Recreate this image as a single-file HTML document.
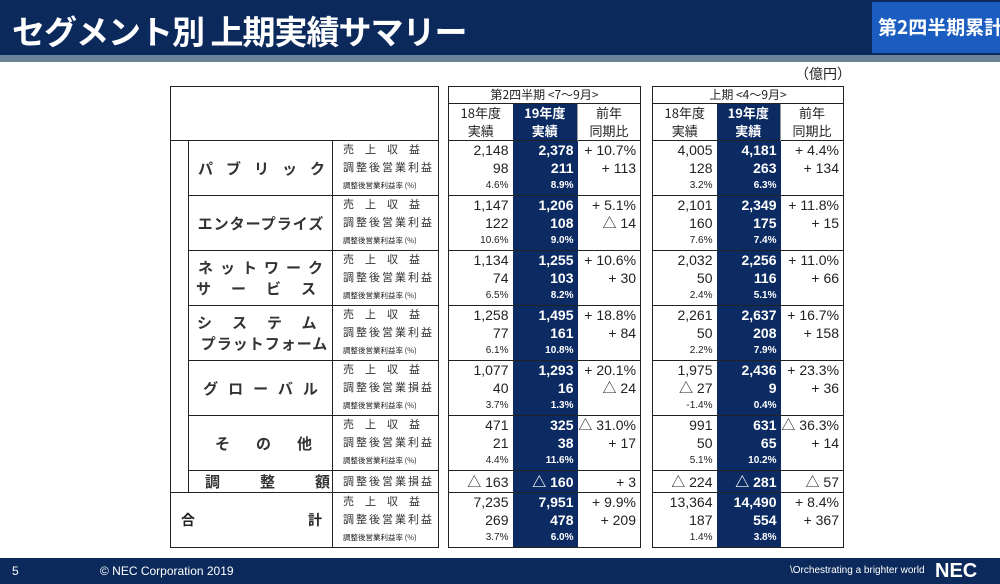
<!DOCTYPE html>
<html><head><meta charset="utf-8"><style>
*{margin:0;padding:0;box-sizing:border-box}
body{width:1000px;height:584px;position:relative;background:#fff;font-family:"Liberation Sans","Noto Sans CJK JP",sans-serif;overflow:hidden;color:#222}
.hd{position:absolute;left:0;top:0;width:1000px;height:55px;background:#0b2a5b}
.st{position:absolute;left:0;top:55px;width:1000px;height:7px;background:#6a8399}
.ttl{position:absolute;left:12px;top:6px;color:#fff;font-size:33px;font-weight:bold;letter-spacing:-1px;font-family:"Noto Sans CJK JP",sans-serif}
.tag{position:absolute;left:872px;top:2px;width:128px;height:51px;background:#1a5cc0;color:#fff;font-size:19px;font-weight:bold;padding:11px 0 0 6px;white-space:nowrap;font-family:"Noto Sans CJK JP",sans-serif}
.unit{position:absolute;left:795px;top:64px;font-size:14px;font-family:"Noto Sans CJK JP",sans-serif}
table{position:absolute;border-collapse:collapse;table-layout:fixed;border:1.5px solid #222}
td{white-space:nowrap;overflow:hidden;padding:0;font-size:13px;line-height:1}
.L td{font-family:"Noto Sans CJK JP",sans-serif}
.seg{font-size:15px;font-weight:bold;color:#333;text-align:center;border-left:1px solid #222;border-top:1.5px solid #222}
.it{font-size:11px;color:#333;padding-left:10px;border-left:1px solid #222;letter-spacing:2px}
.it.sp{letter-spacing:11px}
.rt{font-size:7.5px;padding-left:10px;border-left:1px solid #222}
.top td{border-top:1.5px solid #222}
.N td{text-align:right;padding-right:4px;font-size:14px}
.N .h td{text-align:center;padding:0;font-family:"Noto Sans CJK JP",sans-serif;font-size:13px}
.N .h td.h1{font-size:12px;line-height:1}
.c{background:#0c2b62;color:#fff;font-weight:bold}
.N td.p{font-size:10px}
.N .top td{border-top:1.5px solid #222}
.ft{position:absolute;left:0;top:558px;width:1000px;height:26px;background:#0b2a5b;color:#fff;font-size:12px}
</style></head><body>
<div class="hd"></div><div class="st"></div>
<div class="ttl">セグメント別 上期実績サマリー</div>
<div class="tag">第2四半期累計</div>
<div class="unit">（億円）</div>

<table class="L" style="left:170px;top:86px;width:268px;height:461px">
<colgroup><col style="width:18px"><col style="width:144px"><col style="width:106px"></colgroup>
<tr style="height:54px"><td colspan="3"></td></tr>
<tr class="top" style="height:18px"><td rowspan="19" style="border-top:1.5px solid #222"></td><td rowspan="3" class="seg" style="letter-spacing:13px;padding-left:9px">パブリック</td><td class="it sp">売上収益</td></tr>
<tr style="height:18px"><td class="it">調整後営業利益</td></tr>
<tr style="height:19px"><td class="rt">調整後営業利益率 (%)</td></tr>
<tr class="top" style="height:18px"><td rowspan="3" class="seg" style="letter-spacing:1px;padding-left:1px">エンタープライズ</td><td class="it sp">売上収益</td></tr>
<tr style="height:18px"><td class="it">調整後営業利益</td></tr>
<tr style="height:19px"><td class="rt">調整後営業利益率 (%)</td></tr>
<tr class="top" style="height:18px"><td rowspan="3" class="seg" style="line-height:1.4;padding-left:7px"><span style="letter-spacing:7px">ネットワーク</span><br><span style="letter-spacing:20px">サービス</span></td><td class="it sp">売上収益</td></tr>
<tr style="height:18px"><td class="it">調整後営業利益</td></tr>
<tr style="height:19px"><td class="rt">調整後営業利益率 (%)</td></tr>
<tr class="top" style="height:18px"><td rowspan="3" class="seg" style="line-height:1.4;padding-left:8px"><span style="letter-spacing:20px">システム</span><br><span style="letter-spacing:1px">プラットフォーム</span></td><td class="it sp">売上収益</td></tr>
<tr style="height:18px"><td class="it">調整後営業利益</td></tr>
<tr style="height:19px"><td class="rt">調整後営業利益率 (%)</td></tr>
<tr class="top" style="height:18px"><td rowspan="3" class="seg" style="letter-spacing:10px;padding-left:10px">グローバル</td><td class="it sp">売上収益</td></tr>
<tr style="height:18px"><td class="it">調整後営業損益</td></tr>
<tr style="height:19px"><td class="rt">調整後営業利益率 (%)</td></tr>
<tr class="top" style="height:18px"><td rowspan="3" class="seg" style="letter-spacing:26px;padding-left:26px">その他</td><td class="it sp">売上収益</td></tr>
<tr style="height:18px"><td class="it">調整後営業利益</td></tr>
<tr style="height:19px"><td class="rt">調整後営業利益率 (%)</td></tr>
<tr class="top" style="height:22px"><td class="seg" style="letter-spacing:40px;padding-left:16px;text-align:left">調整額</td><td class="it">調整後営業損益</td></tr>
<tr class="top" style="height:18px"><td colspan="2" rowspan="3" style="border-top:1.5px solid #222;font-size:14px;font-weight:bold;padding:0 10px"><span style="float:left">合</span><span style="float:right">計</span></td><td class="it sp">売上収益</td></tr>
<tr style="height:18px"><td class="it">調整後営業利益</td></tr>
<tr style="height:19px"><td class="rt">調整後営業利益率 (%)</td></tr>
</table>

<table class="N" style="left:448px;top:86px;width:192px;height:461px">
<colgroup><col style="width:64px"><col style="width:65px"><col style="width:63px"></colgroup>
<tr class="h" style="height:17px"><td class="h1" colspan="3" style="border-bottom:1px solid #222">第2四半期 &lt;7～9月&gt;</td></tr>
<tr class="h" style="height:37px"><td style="line-height:1.4">18年度<br>実績</td><td class="c" style="line-height:1.4">19年度<br>実績</td><td style="line-height:1.4;border-left:1px solid #999">前年<br>同期比</td></tr>
<tr class="top" style="height:18px"><td>2,148</td><td class="c">2,378</td><td>+ 10.7%</td></tr><tr style="height:18px"><td>98</td><td class="c">211</td><td>+ 113</td></tr><tr style="height:19px"><td class="p">4.6%</td><td class="c p">8.9%</td><td></td></tr>
<tr class="top" style="height:18px"><td>1,147</td><td class="c">1,206</td><td>+ 5.1%</td></tr><tr style="height:18px"><td>122</td><td class="c">108</td><td>△ 14</td></tr><tr style="height:19px"><td class="p">10.6%</td><td class="c p">9.0%</td><td></td></tr>
<tr class="top" style="height:18px"><td>1,134</td><td class="c">1,255</td><td>+ 10.6%</td></tr><tr style="height:18px"><td>74</td><td class="c">103</td><td>+ 30</td></tr><tr style="height:19px"><td class="p">6.5%</td><td class="c p">8.2%</td><td></td></tr>
<tr class="top" style="height:18px"><td>1,258</td><td class="c">1,495</td><td>+ 18.8%</td></tr><tr style="height:18px"><td>77</td><td class="c">161</td><td>+ 84</td></tr><tr style="height:19px"><td class="p">6.1%</td><td class="c p">10.8%</td><td></td></tr>
<tr class="top" style="height:18px"><td>1,077</td><td class="c">1,293</td><td>+ 20.1%</td></tr><tr style="height:18px"><td>40</td><td class="c">16</td><td>△ 24</td></tr><tr style="height:19px"><td class="p">3.7%</td><td class="c p">1.3%</td><td></td></tr>
<tr class="top" style="height:18px"><td>471</td><td class="c">325</td><td>△ 31.0%</td></tr><tr style="height:18px"><td>21</td><td class="c">38</td><td>+ 17</td></tr><tr style="height:19px"><td class="p">4.4%</td><td class="c p">11.6%</td><td></td></tr>
<tr class="top" style="height:22px"><td>△ 163</td><td class="c">△ 160</td><td>+ 3</td></tr>
<tr class="top" style="height:18px"><td>7,235</td><td class="c">7,951</td><td>+ 9.9%</td></tr><tr style="height:18px"><td>269</td><td class="c">478</td><td>+ 209</td></tr><tr style="height:19px"><td class="p">3.7%</td><td class="c p">6.0%</td><td></td></tr>
</table>

<table class="N" style="left:652px;top:86px;width:191px;height:461px">
<colgroup><col style="width:64px"><col style="width:64px"><col style="width:63px"></colgroup>
<tr class="h" style="height:17px"><td class="h1" colspan="3" style="border-bottom:1px solid #222">上期 &lt;4～9月&gt;</td></tr>
<tr class="h" style="height:37px"><td style="line-height:1.4">18年度<br>実績</td><td class="c" style="line-height:1.4">19年度<br>実績</td><td style="line-height:1.4;border-left:1px solid #999">前年<br>同期比</td></tr>
<tr class="top" style="height:18px"><td>4,005</td><td class="c">4,181</td><td>+ 4.4%</td></tr><tr style="height:18px"><td>128</td><td class="c">263</td><td>+ 134</td></tr><tr style="height:19px"><td class="p">3.2%</td><td class="c p">6.3%</td><td></td></tr>
<tr class="top" style="height:18px"><td>2,101</td><td class="c">2,349</td><td>+ 11.8%</td></tr><tr style="height:18px"><td>160</td><td class="c">175</td><td>+ 15</td></tr><tr style="height:19px"><td class="p">7.6%</td><td class="c p">7.4%</td><td></td></tr>
<tr class="top" style="height:18px"><td>2,032</td><td class="c">2,256</td><td>+ 11.0%</td></tr><tr style="height:18px"><td>50</td><td class="c">116</td><td>+ 66</td></tr><tr style="height:19px"><td class="p">2.4%</td><td class="c p">5.1%</td><td></td></tr>
<tr class="top" style="height:18px"><td>2,261</td><td class="c">2,637</td><td>+ 16.7%</td></tr><tr style="height:18px"><td>50</td><td class="c">208</td><td>+ 158</td></tr><tr style="height:19px"><td class="p">2.2%</td><td class="c p">7.9%</td><td></td></tr>
<tr class="top" style="height:18px"><td>1,975</td><td class="c">2,436</td><td>+ 23.3%</td></tr><tr style="height:18px"><td>△ 27</td><td class="c">9</td><td>+ 36</td></tr><tr style="height:19px"><td class="p">-1.4%</td><td class="c p">0.4%</td><td></td></tr>
<tr class="top" style="height:18px"><td>991</td><td class="c">631</td><td>△ 36.3%</td></tr><tr style="height:18px"><td>50</td><td class="c">65</td><td>+ 14</td></tr><tr style="height:19px"><td class="p">5.1%</td><td class="c p">10.2%</td><td></td></tr>
<tr class="top" style="height:22px"><td>△ 224</td><td class="c">△ 281</td><td>△ 57</td></tr>
<tr class="top" style="height:18px"><td>13,364</td><td class="c">14,490</td><td>+ 8.4%</td></tr><tr style="height:18px"><td>187</td><td class="c">554</td><td>+ 367</td></tr><tr style="height:19px"><td class="p">1.4%</td><td class="c p">3.8%</td><td></td></tr>
</table>

<div class="ft">
<span style="position:absolute;left:12px;top:6px">5</span>
<span style="position:absolute;left:100px;top:6px">© NEC Corporation 2019</span>
<span style="position:absolute;left:790px;top:7px;font-size:10px">\Orchestrating a brighter world</span>
<span style="position:absolute;left:935px;top:2px;font-size:20px;font-weight:bold">NEC</span>
</div>
</body></html>
